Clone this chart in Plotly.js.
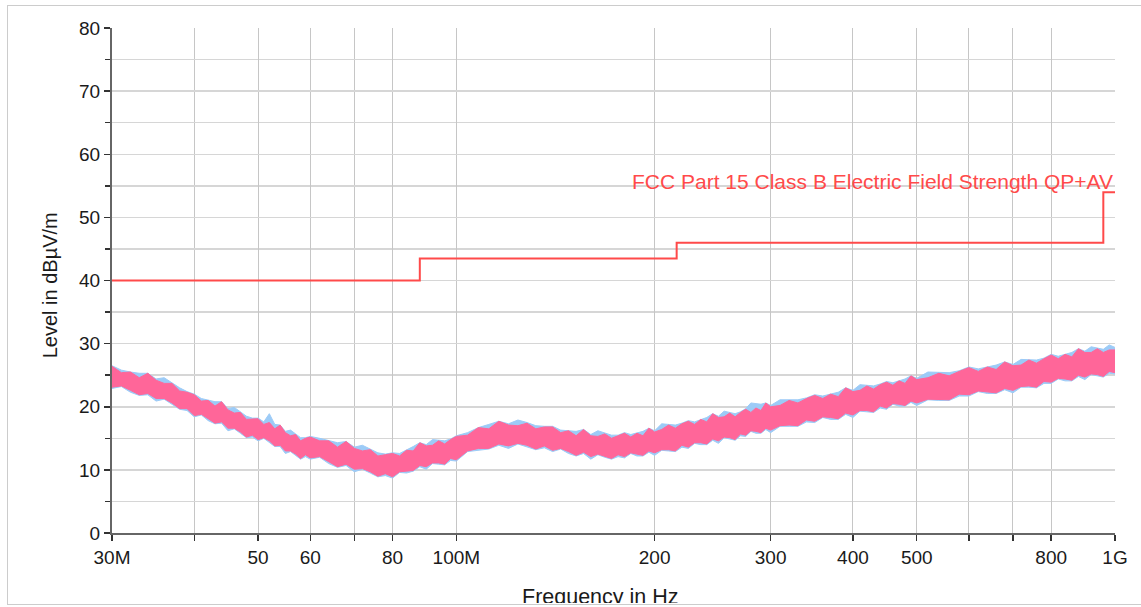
<!DOCTYPE html>
<html>
<head>
<meta charset="utf-8">
<script src="https://cdn.plot.ly/plotly-3.0.1.min.js"></script>
<style>
  html, body { margin: 0; padding: 0; background: #ffffff; }
  #wrap { position: relative; width: 1141px; height: 607px; overflow: hidden; background: #fff; }
  #chart { position: absolute; left: 0; top: 0; width: 1141px; height: 603px; overflow: hidden; }
  #frame { position: absolute; left: 7px; top: 5px; width: 1160px; height: 598px;
           border: 1px solid #cccccc; pointer-events: none; }
</style>
</head>
<body>
<div id="wrap">
  <div id="chart"></div>
  <div id="frame"></div>
</div>
<script>
// Frequencies (MHz) at which the measured band was read
const freqMHz = [
  30,31,32,33,34,35,36,37,38,39,40,41,42,43,44,45,46,47,48,49,50,51,52,53,54,55,56,57,58,59,60,
  62,64,66,68,70,72,74,76,78,80,82,84,86,88,90,92,94,96,98,100,
  104,108,112,116,120,124,128,132,136,140,144,148,152,156,160,164,168,172,176,180,184,188,192,196,200,
  205,210,215,220,225,230,235,240,245,250,255,260,265,270,275,280,285,290,295,300,
  310,320,330,340,350,360,370,380,390,400,410,420,430,440,450,460,470,480,490,500,
  520,540,560,580,600,620,640,660,680,700,720,740,760,780,800,820,840,860,880,900,920,940,960,980,1000];

// Pink trace: upper / lower edge of its band (dBµV/m)
const pinkHi = [
  26.4,25.4,25.5,24.6,25.3,24.2,23.7,23.7,22.5,22.3,21.9,20.9,21.0,20.1,20.8,19.5,19.0,19.1,18.0,18.1,18.1,17.2,17.5,16.5,17.1,15.9,15.4,15.6,14.6,15.0,15.2,
  14.6,14.6,13.6,14.5,13.4,13.0,13.2,12.2,12.4,12.6,12.2,13.1,13.0,14.3,13.8,13.9,14.6,14.1,14.8,15.3,
  15.5,16.7,16.5,17.7,17.1,17.0,17.4,16.5,16.8,16.8,15.9,16.2,15.4,16.4,15.4,15.3,15.7,15.0,15.4,15.8,15.2,15.8,15.4,16.6,16.0,
  16.4,17.1,16.6,17.3,17.7,17.2,18.0,17.6,18.9,18.3,18.4,19.0,18.4,19.1,19.6,19.1,19.8,19.4,20.6,20.0,
  20.2,21.0,20.6,21.3,21.8,21.3,22.0,21.6,23.0,22.4,22.6,23.3,22.8,23.5,23.9,23.4,24.1,23.7,24.9,24.3,
  24.6,25.3,24.9,25.6,26.2,25.6,26.3,25.9,27.1,26.5,26.6,27.4,26.9,27.6,28.2,27.6,28.3,27.9,29.2,28.6,28.6,29.2,28.6,29.0,29.0];
const pinkLo = [
  23.1,23.3,22.6,21.9,22.1,21.3,21.3,20.6,19.7,19.7,18.6,18.8,18.1,17.4,17.6,16.6,16.6,16.0,15.2,15.5,14.8,15.1,14.6,13.8,13.9,13.0,13.0,12.5,11.8,12.4,11.9,
  12.1,11.3,10.5,10.9,10.1,10.2,9.7,9.0,9.4,8.9,9.7,9.8,9.9,10.7,10.5,11.1,11.1,10.9,11.8,11.6,
  13.0,13.4,13.4,14.1,13.8,14.2,13.9,13.3,13.8,13.1,13.4,12.9,12.3,12.8,12.1,12.5,12.2,11.8,12.4,12.1,12.7,12.5,12.3,13.0,12.7,
  13.2,13.2,13.0,13.9,13.6,14.3,14.3,14.1,14.9,14.6,15.2,15.1,14.8,15.7,15.5,16.2,16.1,15.9,16.6,16.3,
  17.0,17.1,17.0,17.9,17.7,18.4,18.3,18.1,19.0,18.7,19.4,19.4,19.2,20.1,19.8,20.5,20.4,20.2,20.9,20.6,
  21.2,21.2,21.1,22.0,21.9,22.5,22.4,22.2,22.9,22.6,23.2,23.3,23.1,24.0,23.9,24.5,24.4,24.2,25.0,24.7,25.2,25.1,24.8,25.6,25.4];

// Blue trace: upper / lower edge of its band (dBµV/m)
const blueHi = [
  26.5,25.8,25.5,25.3,25.3,24.4,24.6,23.8,23.0,22.4,22.0,21.3,21.0,20.8,20.8,19.7,19.9,19.2,18.5,18.2,18.2,17.6,18.9,17.2,17.1,16.1,16.3,15.7,15.1,15.1,15.3,
  15.0,14.6,14.3,14.5,13.6,13.9,13.3,12.7,12.5,12.7,12.6,13.1,13.7,14.3,14.0,14.8,14.7,14.6,14.9,15.4,
  15.9,16.7,17.2,17.7,17.3,17.9,17.5,17.0,16.9,16.9,16.3,16.2,16.1,16.4,15.6,16.2,15.8,15.5,15.5,15.9,15.6,15.8,16.1,16.6,16.2,
  17.3,17.2,17.1,17.4,17.8,17.6,18.0,18.3,18.9,18.5,19.3,19.1,18.9,19.2,19.7,20.6,20.5,20.4,20.6,20.2,
  21.1,21.1,21.1,21.4,21.9,21.7,22.0,22.3,23.0,22.6,23.5,23.4,23.3,23.6,24.0,23.8,24.1,24.4,24.9,24.5,
  25.5,25.4,25.4,25.7,26.3,26.0,26.3,26.6,27.1,26.7,27.5,27.5,27.4,27.7,28.3,28.0,28.3,28.6,29.2,28.8,29.5,29.3,29.1,29.8,29.4];
const blueLo = [
  22.9,23.2,22.3,21.8,21.9,20.9,21.2,20.4,19.6,19.4,18.4,18.7,17.8,17.3,17.4,16.2,16.5,15.8,15.1,15.2,14.6,15.0,14.3,13.7,13.7,12.6,12.9,12.3,11.7,12.1,11.7,
  12.0,11.0,10.4,10.7,9.7,10.1,9.5,8.9,9.1,8.7,9.6,9.5,9.8,10.5,10.1,11.0,10.9,10.8,11.5,11.4,
  12.9,13.1,13.3,13.9,13.4,14.1,13.7,13.2,13.5,12.9,13.3,12.6,12.2,12.6,11.7,12.4,12.0,11.7,12.1,11.9,12.6,12.2,12.2,12.8,12.3,
  13.1,13.0,12.9,13.6,13.4,14.2,14.0,14.0,14.7,14.2,15.1,14.9,14.7,15.4,15.3,16.1,15.8,15.8,16.4,15.9,
  16.9,16.9,16.9,17.6,17.5,18.3,18.0,18.0,18.8,18.3,19.3,19.2,19.1,19.8,19.6,20.4,20.1,20.1,20.7,20.2,
  21.1,21.0,21.0,21.7,21.7,22.4,22.1,22.1,22.7,22.2,23.1,23.1,23.0,23.7,23.7,24.4,24.1,24.1,24.8,24.3,25.1,24.9,24.7,25.3,25.2];

// FCC Part 15 Class B limit line (step function)
const limitFreqMHz = [30, 88, 88, 216, 216, 960, 960, 1000];
const limitLevel   = [40, 40, 43.5, 43.5, 46, 46, 54, 54];
const limitName = 'FCC Part 15 Class B Electric Field Strength QP+AV';

// Axis ticks and titles
const xTickVals = [30, 50, 60, 80, 100, 200, 300, 400, 500, 800, 1000];
const xTickText = ['30M', '50', '60', '80', '100M', '200', '300', '400', '500', '800', '1G'];
const xMinorVals = [40, 70, 600, 700];
const yTickVals = [0, 10, 20, 30, 40, 50, 60, 70, 80];
const xTitle = 'Frequency in Hz';
const yTitle = 'Level in dBµV/m';

const BLUE = '#9ccbf7';
const PINK = '#ff6699';
const RED = '#ff4a4a';
const FONT = 'Liberation Sans, Arial, Helvetica, sans-serif';

const traces = [
  { x: freqMHz, y: blueLo, mode: 'lines', line: { color: BLUE, width: 1 }, hoverinfo: 'skip', showlegend: false },
  { x: freqMHz, y: blueHi, mode: 'lines', line: { color: BLUE, width: 1 }, fill: 'tonexty', fillcolor: BLUE, hoverinfo: 'skip', showlegend: false },
  { x: freqMHz, y: pinkLo, mode: 'lines', line: { color: PINK, width: 1 }, hoverinfo: 'skip', showlegend: false },
  { x: freqMHz, y: pinkHi, mode: 'lines', line: { color: PINK, width: 1 }, fill: 'tonexty', fillcolor: PINK, hoverinfo: 'skip', showlegend: false },
  { x: limitFreqMHz, y: limitLevel, mode: 'lines', line: { color: RED, width: 2 }, name: limitName, showlegend: false }
];

const layout = {
  width: 1141,
  height: 607,
  margin: { l: 112, r: 25.5, t: 27.5, b: 74, pad: 0 },
  paper_bgcolor: 'rgba(0,0,0,0)',
  plot_bgcolor: '#ffffff',
  showlegend: false,
  font: { family: FONT, size: 19, color: '#1a1a1a' },
  xaxis: {
    type: 'log',
    range: [Math.log10(30), Math.log10(1000)],
    tickmode: 'array',
    tickvals: xTickVals,
    ticktext: xTickText,
    ticks: 'outside',
    ticklen: 6,
    tickwidth: 1.5,
    tickcolor: '#333',
    showline: true,
    linecolor: '#666',
    linewidth: 2,
    showgrid: true,
    gridcolor: '#c6c6c6',
    gridwidth: 1,
    zeroline: false,
    minor: { tickmode: 'array', tickvals: xMinorVals, ticks: 'outside', ticklen: 6, tickwidth: 1.5, tickcolor: '#333', showgrid: true, gridcolor: '#c6c6c6', gridwidth: 1 },
    tickfont: { family: FONT, size: 19, color: '#1a1a1a' },
    title: { text: '' },
    fixedrange: true
  },
  yaxis: {
    range: [0, 80],
    tickmode: 'array',
    tickvals: yTickVals,
    ticks: 'outside',
    ticklen: 6,
    tickwidth: 1.5,
    tickcolor: '#333',
    showline: true,
    linecolor: '#666',
    linewidth: 2,
    showgrid: true,
    gridcolor: '#d6d6d6',
    gridwidth: 1.5,
    zeroline: false,
    minor: { dtick: 5, tick0: 0, ticks: 'outside', ticklen: 5, tickwidth: 1.5, tickcolor: '#333', showgrid: true, gridcolor: '#d6d6d6', gridwidth: 1.5 },
    tickfont: { family: FONT, size: 19, color: '#1a1a1a' },
    title: { text: '' },
    fixedrange: true
  },
  annotations: [
    { x: 1, xref: 'paper', y: 54, yref: 'y', yshift: 10.5, xshift: 0, text: limitName, showarrow: false,
      xanchor: 'right', yanchor: 'middle', font: { family: FONT, size: 21, color: RED } },
    { x: 0.4868, xref: 'paper', y: 0, yref: 'paper', yshift: -64, text: xTitle, showarrow: false,
      xanchor: 'center', yanchor: 'middle', font: { family: FONT, size: 21.5, color: '#1a1a1a' } },
    { x: -0.0618, xref: 'paper', y: 0.4906, yref: 'paper', text: yTitle, showarrow: false, textangle: -90,
      xanchor: 'center', yanchor: 'middle', font: { family: FONT, size: 20, color: '#1a1a1a' } }
  ]
};

Plotly.newPlot('chart', traces, layout, { displayModeBar: false, staticPlot: true });
</script>
</body>
</html>
